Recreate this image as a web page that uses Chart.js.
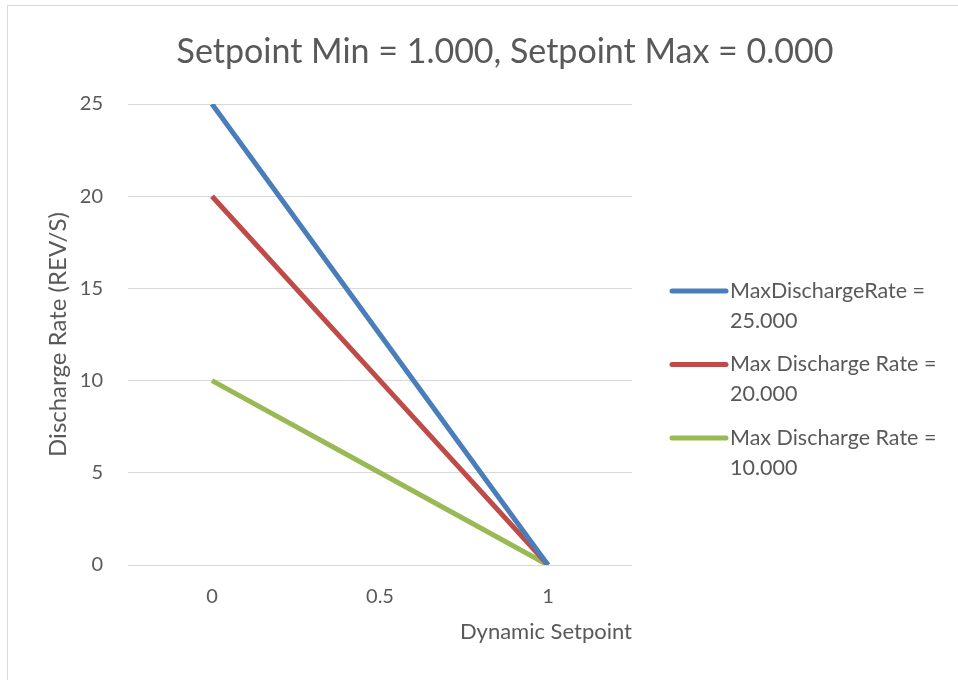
<!DOCTYPE html>
<html>
<head>
<meta charset="utf-8">
<script src="https://cdn.jsdelivr.net/npm/chart.js@4"></script>
<style>
  html, body { margin: 0; padding: 0; background: #fff; }
  #wrap { position: relative; width: 958px; height: 680px; overflow: hidden; }
  #frame { position: absolute; left: 7px; top: 5px; width: 1000px; height: 1000px; border: 1px solid #d9d9d9; pointer-events: none; }
  canvas { position: absolute; left: 0; top: 0; }
</style>
</head>
<body>
<div id="wrap">
  <canvas id="chart" width="958" height="680"></canvas>
  <div id="frame"></div>
</div>
<script>
const categories = ['0', '0.5', '1'];
const seriesNames = ['MaxDischargeRate = 25.000', 'Max Discharge Rate = 20.000', 'Max Discharge Rate = 10.000'];
const rate25 = [25, 12.5, 0];
const rate20 = [20, 10, 0];
const rate10 = [10, 5, 0];
const yTicks = [0, 5, 10, 15, 20, 25];
const colors = ['#4A7EBB', '#BE4B48', '#98B954'];
const chartTitle = 'Setpoint Min = 1.000, Setpoint Max = 0.000';

const fontName = 'Lato, "Open Sans", sans-serif';
const textColor = '#595959';

// title and legend are drawn by hand so they sit where Excel puts them
const excelBits = {
  id: 'excelBits',
  afterDraw(chart) {
    const ctx = chart.ctx;
    ctx.save();
    ctx.fillStyle = textColor;
    ctx.textBaseline = 'middle';
    ctx.textAlign = 'center';
    ctx.font = '34px ' + fontName;
    ctx.fillText(chartTitle, 505, 52);

    ctx.textAlign = 'left';
    ctx.font = '21.5px ' + fontName;
    const x0 = chart.chartArea.right + 38;
    chart.data.datasets.forEach((ds, i) => {
      const y = 291 + i * 73.5;
      ctx.strokeStyle = ds.borderColor;
      ctx.lineWidth = 5;
      ctx.lineCap = 'round';
      ctx.beginPath();
      ctx.moveTo(x0 + 2, y);
      ctx.lineTo(x0 + 56, y);
      ctx.stroke();
      const cut = ds.label.lastIndexOf(' ');
      ctx.fillText(ds.label.slice(0, cut), x0 + 60, y);
      ctx.fillText(ds.label.slice(cut + 1), x0 + 60, y + 30);
    });
    ctx.restore();
  }
};

new Chart(document.getElementById('chart'), {
  type: 'line',
  data: {
    labels: categories,
    datasets: [
      { label: seriesNames[0], data: rate25, borderColor: colors[0] },
      { label: seriesNames[1], data: rate20, borderColor: colors[1] },
      { label: seriesNames[2], data: rate10, borderColor: colors[2] }
    ]
  },
  options: {
    responsive: false,
    animation: false,
    layout: {
      padding: { left: 16, right: 326, top: 104, bottom: 35 }
    },
    elements: {
      line: { borderWidth: 5, tension: 0, borderCapStyle: 'butt' },
      point: { radius: 0 }
    },
    scales: {
      x: {
        offset: true,
        grid: { display: false, drawTicks: false },
        border: { display: false },
        ticks: { padding: 20, color: textColor, font: { family: fontName, size: 20 } },
        title: {
          display: true,
          text: 'Dynamic Setpoint',
          align: 'end',
          color: textColor,
          font: { family: fontName, size: 22 },
          padding: { top: 0, bottom: 0 }
        },
        afterFit(scale) { scale.height = 80; }
      },
      y: {
        min: 0,
        max: 25,
        afterBuildTicks(scale) { scale.ticks = yTicks.map(v => ({ value: v })); },
        grid: { color: '#d9d9d9', lineWidth: 1, drawTicks: false },
        border: { display: false },
        ticks: { padding: 25, color: textColor, font: { family: fontName, size: 20 } },
        title: {
          display: true,
          text: 'Discharge Rate (REV/S)',
          color: textColor,
          font: { family: fontName, size: 24 },
          padding: { top: 28, bottom: 0 }
        },
        afterFit(scale) { scale.width = 112; }
      }
    },
    plugins: {
      legend: { display: false },
      tooltip: { enabled: false },
      title: { display: false }
    }
  },
  plugins: [excelBits]
});
</script>
</body>
</html>
